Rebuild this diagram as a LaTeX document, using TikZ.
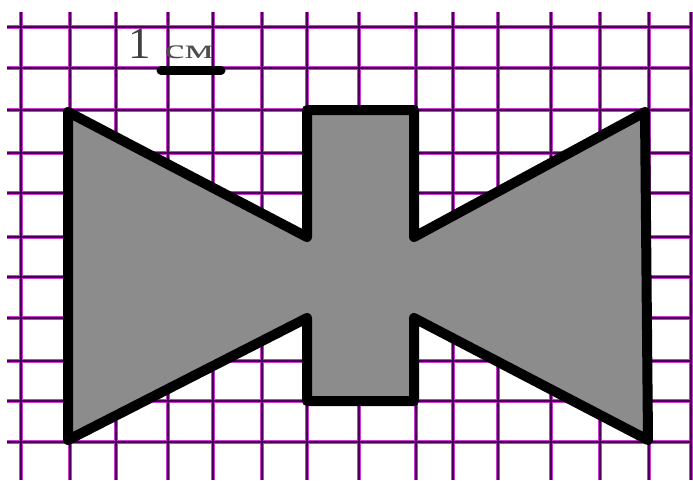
\documentclass[tikz,border=0pt]{standalone}
\usepackage{fontspec}
\setmainfont{Liberation Serif}
\definecolor{gridpurple}{RGB}{200,60,210}
\definecolor{gridcore}{RGB}{75,0,85}
\definecolor{shapegray}{RGB}{140,140,140}
\tikzset{
  gridouter/.style={draw=gridpurple, line width=3.4pt},
  gridinner/.style={draw=gridcore, line width=1.4pt},
  figline/.style={draw=black, fill=shapegray, line width=10pt, line join=round},
  scalebar/.style={draw=black, line width=9pt, line cap=round}
}
\begin{document}
\begin{tikzpicture}[x=1pt,y=-1pt]
\useasboundingbox[fill=white] (0,0) rectangle (693,480);
% grid
\foreach \gy in {27,68,110,153,193,237,277,318,361,401,442}{
  \draw[gridouter] (7,\gy) -- (691,\gy);
}
\foreach \gx in {21,70,116,168,213,262,307,359,416,453,498,551,600,649,691}{
  \draw[gridouter] (\gx,12) -- (\gx,480);
}
\foreach \gy in {27,68,110,153,193,237,277,318,361,401,442}{
  \draw[gridinner] (7,\gy) -- (691,\gy);
}
\foreach \gx in {21,70,116,168,213,262,307,359,416,453,498,551,600,649,691}{
  \draw[gridinner] (\gx,12) -- (\gx,480);
}
% figure
\draw[figline] (68,112) -- (307,237) -- (307,110) -- (414,110) -- (414,237)
  -- (645,112) -- (648,440) -- (414,318) -- (414,401) -- (307,401)
  -- (307,318) -- (68,440) -- cycle;
% scale
\coordinate (sbA) at (161,70);
\coordinate (sbB) at (221,70);
\draw[scalebar] (sbA) -- (sbB);
\node[anchor=base west, inner sep=0pt, text=black!75] (one) at (128,58) {\fontsize{45}{45}\selectfont 1};
\node[anchor=base west, inner sep=0pt, text=black!70, xscale=1.7] (cm) at (164,58) {\fontsize{27}{27}\selectfont см};
\end{tikzpicture}
\end{document}
